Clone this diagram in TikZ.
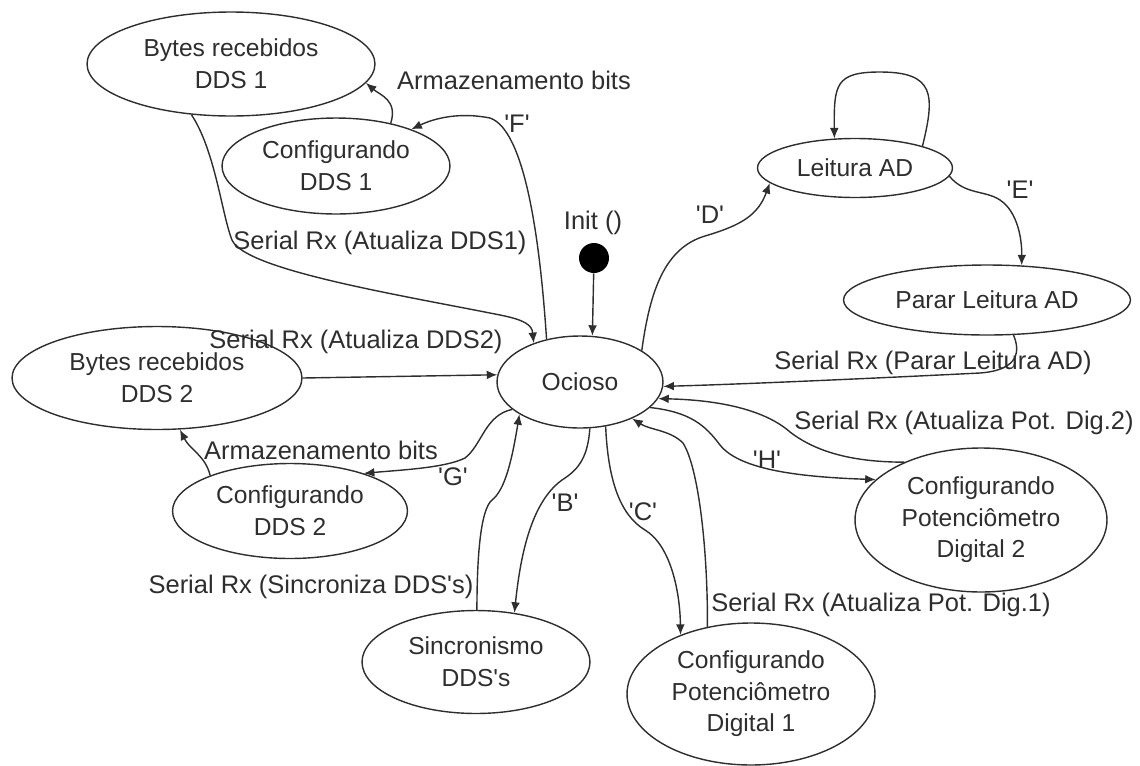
\documentclass[tikz,border=0pt]{standalone}
\usepackage{fontspec}
\setmainfont{Liberation Sans}
\usetikzlibrary{shapes.geometric,arrows.meta}
\definecolor{ink}{HTML}{2E2E2E}
\newcommand{\chq}[1]{\textquotesingle#1\textquotesingle}
\begin{document}
\begin{tikzpicture}[x=0.02cm,y=-0.02cm,
  st/.style={ellipse, draw=ink, line width=0.8pt, inner sep=0pt, align=center, text=ink, font=\fontsize{14}{18}\selectfont},
  lb/.style={inner sep=0pt, text=ink, font=\fontsize{14.5}{17}\selectfont},
  tr/.style={draw=ink, line width=0.8pt, -{Latex[length=6pt,width=5pt]}}]
\useasboundingbox (0,0) rectangle (1140,765);
\node[st, minimum width=5.76cm, minimum height=2.08cm] (st1) at (231,64) {Bytes recebidos\\DDS 1};
\node[st, minimum width=4.56cm, minimum height=1.92cm] (st2) at (336,166) {Configurando\\DDS 1};
\node[st, minimum width=3.90cm, minimum height=1.18cm] (st3) at (855,168) {Leitura AD};
\node[st, minimum width=5.74cm, minimum height=1.40cm] (st4) at (987,300) {Parar Leitura AD};
\node[st, minimum width=5.80cm, minimum height=2.06cm] (st5) at (157,378) {Bytes recebidos\\DDS 2};
\node[st, minimum width=3.32cm, minimum height=1.84cm] (st0) at (580,382) {Ocioso};
\node[st, minimum width=4.70cm, minimum height=1.90cm] (st6) at (290,511) {Configurando\\DDS 2};
\node[st, minimum width=4.56cm, minimum height=2.06cm] (st7) at (476,662) {Sincronismo\\DDS\textquotesingle s};
\node[st, minimum width=4.96cm, minimum height=2.84cm] (st8) at (751,694) {Configurando\\Potenciômetro\\Digital 1};
\node[st, minimum width=5.04cm, minimum height=2.88cm] (st9) at (981,520) {Configurando\\Potenciômetro\\Digital 2};
\node[circle, fill=black, inner sep=0pt, minimum size=0.6cm] (ini) at (594,258) {};
\node[lb] (lb0) at (593,223) {Init ()};
\node[lb] (lb1) at (380,243) {Serial Rx (Atualiza DDS1)};
\node[lb] (lb2) at (514,80) {Armazenamento bits};
\node[lb] (lb3) at (517,124) {\chq{F}};
\node[lb] (lb4) at (710,215) {\chq{D}};
\node[lb] (lb5) at (1020,190) {\chq{E}};
\node[lb] (lb6) at (933,363) {Serial Rx (Parar Leitura AD)};
\node[lb] (lb7) at (964,423) {Serial Rx (Atualiza Pot. Dig.2)};
\node[lb] (lb8) at (767,460) {\chq{H}};
\node[lb] (lb9) at (881,605) {Serial Rx (Atualiza Pot. Dig.1)};
\node[lb] (lb10) at (643,512) {\chq{C}};
\node[lb] (lb11) at (565,503) {\chq{B}};
\node[lb] (lb12) at (311,587) {Serial Rx (Sincroniza DDS\textquotesingle s)};
\node[lb] (lb13) at (453,477) {\chq{G}};
\node[lb] (lb14) at (321,450) {Armazenamento bits};
\node[lb] (lb15) at (356,342) {Serial Rx (Atualiza DDS2)};
\draw[tr] (ini) -- (st0.75);
\draw[tr] (st1.232) .. controls (215,150) and (222,215) .. (232,240) .. controls (245,270) and (400,295) .. (500,315) .. controls (525,320) and (532,325) .. (st0.140);
\draw[tr] (st2.38) .. controls (398,100) and (380,95) .. (st1.352);
\draw[tr] (st0.128) .. controls (540,240) and (525,130) .. (490,118) .. controls (460,112) and (435,118) .. (st2.26);
\draw[tr] (st0.27) .. controls (650,290) and (665,248) .. (705,236) .. controls (742,225) and (758,215) .. (st3.190);
\draw[tr] (st3.18) .. controls (935,95) and (935,72) .. (880,72) .. controls (835,72) and (834,85) .. (st3.125);
\draw[tr] (st3.355) .. controls (965,195) and (985,190) .. (1000,200) .. controls (1018,212) and (1022,240) .. (st4.45);
\draw[tr] (st4.307) .. controls (1020,350) and (1020,370) .. (980,373) .. controls (900,377) and (750,384) .. (st0.357);
\draw[tr] (st9.143) .. controls (860,462) and (820,455) .. (790,432) .. controls (765,410) and (720,400) .. (st0.348);
\draw[tr] (st0.340) .. controls (690,412) and (705,425) .. (720,445) .. controls (740,470) and (800,477) .. (st9.159);
\draw[tr] (st8.123) .. controls (708,560) and (700,470) .. (683,443) .. controls (670,430) and (650,430) .. (st0.325);
\draw[tr] (st0.300) .. controls (608,480) and (620,515) .. (645,530) .. controls (670,545) and (680,590) .. (st8.140);
\draw[tr] (st0.282) .. controls (588,455) and (580,468) .. (565,478) .. controls (530,500) and (520,560) .. (st7.52);
\draw[tr] (st7.89) .. controls (477,560) and (480,510) .. (492,500) .. controls (505,490) and (512,460) .. (st0.208);
\draw[tr] (st0.202) .. controls (485,415) and (482,445) .. (465,458) .. controls (445,468) and (400,470) .. (st6.27);
\draw[tr] (st6.156) .. controls (205,455) and (190,450) .. (st5.294);
\draw[tr] (st5.east) -- (st0.175);
\end{tikzpicture}
\end{document}
